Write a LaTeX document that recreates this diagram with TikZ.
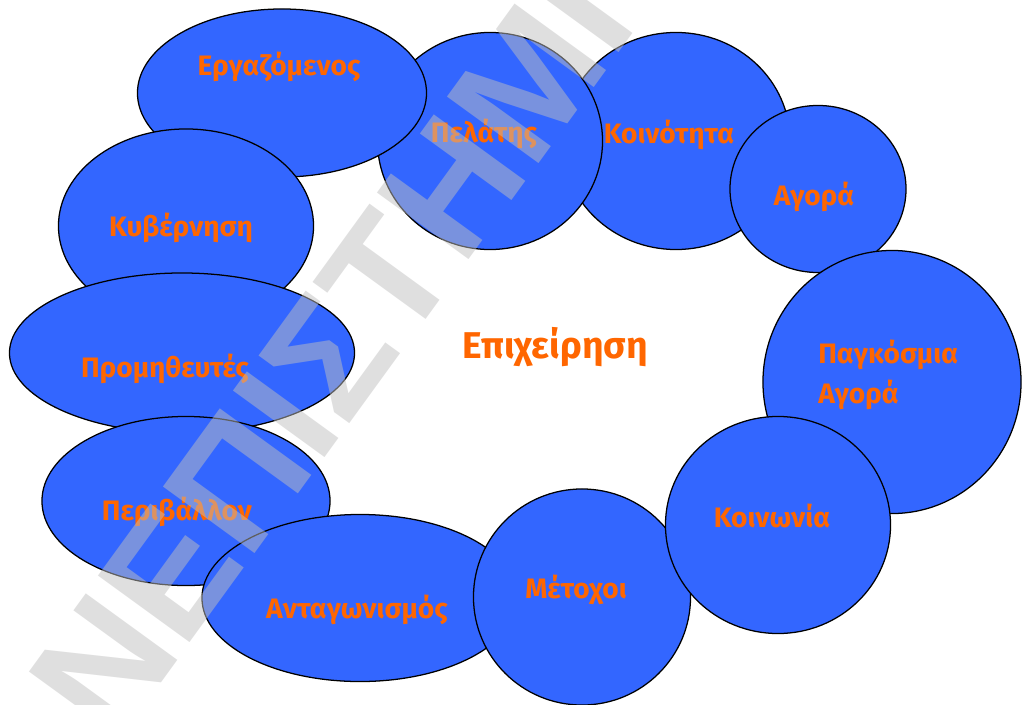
\documentclass[tikz,border=0pt]{standalone}
\usepackage{fontspec}
\setmainfont{Fira Sans}
\newfontfamily\wmfont{Liberation Sans}
\usepackage{xcolor}
\definecolor{bBlue}{RGB}{51,102,255}
\definecolor{bOrange}{RGB}{255,102,0}
\usetikzlibrary{
  shapes.geometric,
  calc
}
\tikzset{
  bubble/.style={
    ellipse,
    draw=black,
    fill=bBlue,
    line width=0.9pt,
    inner sep=0pt
  },
  bubbletext/.style={
    font=\bfseries\fontsize{20}{28}\selectfont,
    text=bOrange,
    inner sep=0pt,
    anchor=base
  },
  % υδατογράφημα
  wmark/.style={
    font=\wmfont\bfseries\fontsize{117}{117}\selectfont,
    text=black!25,
    text opacity=0.5,
    inner sep=0pt
  }
}

\begin{document}
\begin{tikzpicture}[x=0.025cm, y=-0.025cm]
  \useasboundingbox (0,0) rectangle (1026,704);
  % δακτύλιος από ελλείψεις
  \node[bubble, minimum width=5.7cm, minimum height=5.425cm] (koin) at (676,141) {};
  \node[bubble, minimum width=4.4cm, minimum height=4.175cm] (agora) at (818,189) {};
  \node[bubble, minimum width=6.45cm, minimum height=6.575cm] (pagk) at (892,382) {};
  \node[bubble, minimum width=5.625cm, minimum height=5.425cm] (pelatis) at (490,141) {};
  \node[bubble, minimum width=7.225cm, minimum height=4.2cm] (ergaz) at (282,93) {};
  \node[bubble, minimum width=6.375cm, minimum height=4.85cm] (kyvern) at (186,226) {};
  \node[bubble, minimum width=8.625cm, minimum height=4cm] (promith) at (182,353) {};
  \node[bubble, minimum width=7.2cm, minimum height=4.225cm] (perib) at (186,501) {};
  \node[bubble, minimum width=7.9cm, minimum height=4.175cm] (antag) at (360,598) {};
  \node[bubble, minimum width=5.425cm, minimum height=5.4cm] (metoxoi) at (582,597) {};
  \node[bubble, minimum width=5.625cm, minimum height=5.425cm] (koinonia) at (778,525) {};

  % κείμενα
  \node[bubbletext] (ergaz-t) at (279,75) {Εργαζόμενος};
  \node[bubbletext] (pelatis-t) at (484,142) {Πελάτης};
  \node[bubbletext] (koin-t) at (669,143) {Κοινότητα};
  \node[bubbletext] (agora-t) at (814,205) {Αγορά};
  \node[bubbletext, anchor=north west, align=left] (pagk-t) at (818,340) {Παγκόσμια\\Αγορά};
  \node[bubbletext] (koinonia-t) at (772,527) {Κοινωνία};
  \node[bubbletext] (metoxoi-t) at (576,598) {Μέτοχοι};
  \node[bubbletext] (antag-t) at (357,618) {Ανταγωνισμός};
  \node[bubbletext] (perib-t) at (177,520) {Περιβάλλον};
  \node[bubbletext] (promith-t) at (165,377) {Προμηθευτές};
  \node[bubbletext] (kyvern-t) at (181,236) {Κυβέρνηση};
  \node[bubbletext, font=\bfseries\fontsize{26.5}{30}\selectfont] (epix) at (555,358) {Επιχείρηση};

  \node[wmark, rotate=54] (wm) at (331,353) {ΝΕΠΙΣΤΗΜΙ};
\end{tikzpicture}
\end{document}
